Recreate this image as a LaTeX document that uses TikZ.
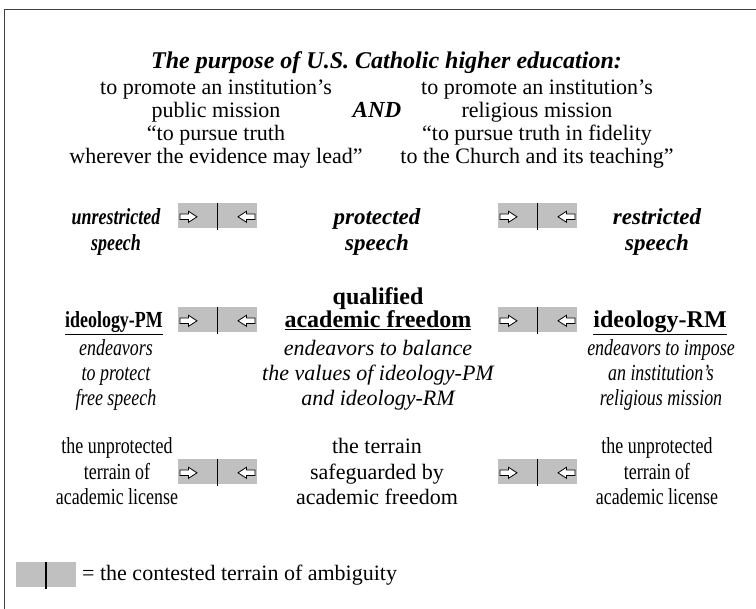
\documentclass[tikz,border=0pt]{standalone}
\usepackage{fontspec}
\setmainfont{Liberation Serif}
\newfontfamily\narrowserif{Liberation Serif}[FakeStretch=0.78]
\definecolor{boxgray}{HTML}{C0C0C0}
\definecolor{framegray}{HTML}{404040}
\tikzset{
  txt/.style={inner sep=0pt, align=center, font=\fontsize{22}{23}\selectfont},
  titlestyle/.style={txt, font=\fontsize{24}{26}\selectfont\bfseries\itshape},
  bi/.style={txt, font=\fontsize{23}{26}\selectfont\bfseries\itshape},
  it/.style={txt, font=\fontsize{22}{25}\selectfont\itshape},
  bf/.style={txt, font=\fontsize{24}{23}\selectfont\bfseries},
  rom/.style={txt, font=\fontsize{22}{25.5}\selectfont},
  nbi/.style={txt, font=\narrowserif\fontsize{23}{26}\selectfont\bfseries\itshape},
  nbf/.style={txt, font=\narrowserif\fontsize{23}{23}\selectfont\bfseries},
  nit/.style={txt, font=\narrowserif\fontsize{23}{25}\selectfont\itshape},
  nrom/.style={txt, font=\narrowserif\fontsize{23}{25.5}\selectfont},
  divider/.style={line width=1.6pt, black},
  hollowarrow/.style={draw=black, fill=white, line width=0.8pt, line join=miter},
  pics/terrainbox/.style={code={
    \fill[boxgray] (-#1/2,-12.5) rectangle (#1/2,12.5);
    \draw[divider] (0,-12.5) -- (0,14.5);
  }},
  pics/rarrow/.style={code={
    \draw[hollowarrow] (-8.5,-2.8) -- (0,-2.8) -- (0,-5.5) -- (8.5,0) -- (0,5.5) -- (0,2.8) -- (-8.5,2.8) -- cycle;
  }},
  pics/larrow/.style={code={
    \draw[hollowarrow] (8.5,-2.8) -- (0,-2.8) -- (0,-5.5) -- (-8.5,0) -- (0,5.5) -- (0,2.8) -- (8.5,2.8) -- cycle;
  }},
  pics/contested/.style={code={
    \pic {terrainbox=79};
    \pic at (-29,0.8) {rarrow};
    \pic at (29,0.8) {larrow};
  }},
}
\begin{document}
\begin{tikzpicture}[x=1pt,y=-1pt]
\useasboundingbox (0,0) rectangle (756,609);
\fill[white] (0,0) rectangle (756,609);
\draw[framegray, line width=1.5pt] (4.5,609) -- (4.5,9.5) -- (756,9.5);

% title
\node[titlestyle, anchor=base] (title) at (386.5,69) {The purpose of U.S. Catholic higher education:};

% missions (anchor base = last line)
\node[txt, anchor=base] (pm) at (216,164) {to promote an institution’s\\public mission\\“to pursue truth\\wherever the evidence may lead”};
\node[bi, anchor=base] (and) at (377,118) {AND};
\node[txt, anchor=base] (rm) at (537,164) {to promote an institution’s\\religious mission\\“to pursue truth in fidelity\\to the Church and its teaching”};

% speech row
\node[nbi, anchor=base] (unres) at (116,251) {unrestricted\\speech};
\node[bi, anchor=base] (prot) at (377,251) {protected\\speech};
\node[bi, anchor=base] (res) at (657,251) {restricted\\speech};
\pic (b1) at (217.5,216) {contested};
\pic (b2) at (537.5,216) {contested};

% ideology row
\node[bf, anchor=base] (qual) at (378,305) {qualified};
\node[nbf, anchor=base] (ipm) at (114,328) {\underline{ideology-PM}};
\node[bf, anchor=base] (af) at (378,328) {\underline{academic freedom}};
\node[bf, anchor=base] (irm) at (660,328) {\underline{ideology-RM}};
\pic (b3) at (217.5,320) {contested};
\pic (b4) at (537.5,320) {contested};
\node[nit, anchor=base] (ipmtxt) at (116,406) {endeavors\\to protect\\free speech};
\node[it, anchor=base] (aftxt) at (378,406) {endeavors to balance\\the values of ideology-PM\\and ideology-RM};
\node[nit, anchor=base] (irmtxt) at (661,406) {endeavors to impose\\an institution’s\\religious mission};

% terrain row
\node[nrom, anchor=base] (t1) at (117,505) {the unprotected\\terrain of\\academic license};
\node[rom, anchor=base] (t2) at (377,505) {the terrain\\safeguarded by\\academic freedom};
\node[nrom, anchor=base] (t3) at (657,505) {the unprotected\\terrain of\\academic license};
\pic (b5) at (217.5,472) {contested};
\pic (b6) at (537.5,472) {contested};

% legend
\pic (leg) at (46,574.5) {terrainbox=60};
\node[txt, anchor=base west] (legtxt) at (82,581) {= the contested terrain of ambiguity};
\end{tikzpicture}
\end{document}
